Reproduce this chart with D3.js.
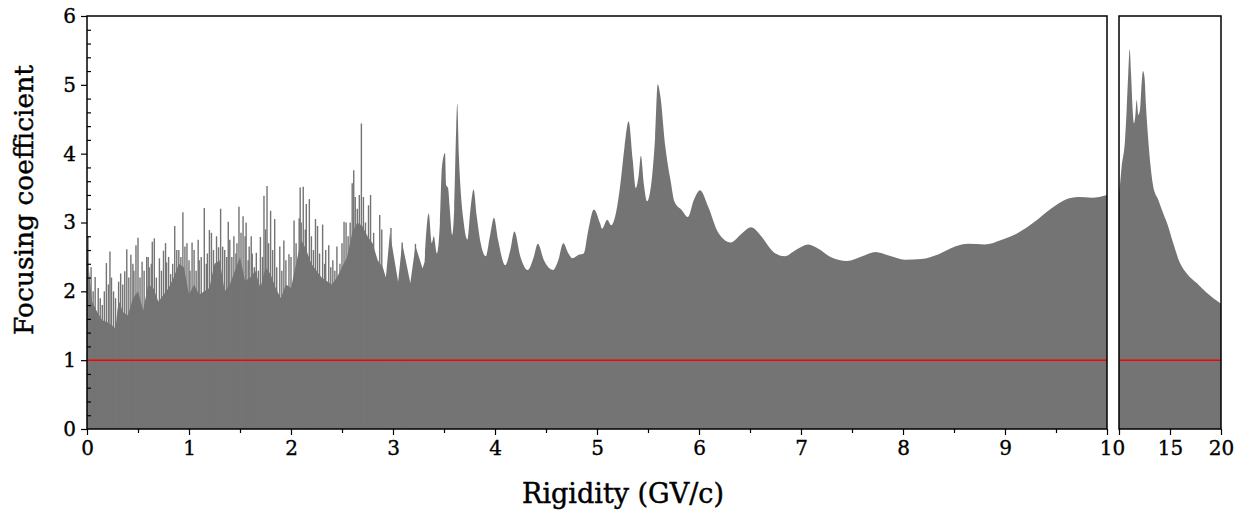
<!DOCTYPE html>
<html><head><meta charset="utf-8">
<script src="https://cdn.jsdelivr.net/npm/d3@7"></script>
<style>
body{margin:0;background:#fff;}
svg{display:block;}
</style></head>
<body>
<svg id="chart" width="1242" height="510"></svg>
<script>
// ---------- data ----------
// left panel, dense low-rigidity part (0-3.3 GV/c)
const denseRigidity = [0.00,0.02,0.05,0.10,0.15,0.20,0.25,0.28,0.30,0.32,0.35,0.40,0.45,0.50,0.55,0.60,0.65,0.70,0.75,0.80,0.85,0.90,0.95,1.00,1.05,1.10,1.15,1.20,1.25,1.30,1.35,1.40,1.45,1.50,1.55,1.60,1.65,1.70,1.75,1.80,1.85,1.90,1.95,2.00,2.05,2.10,2.15,2.20,2.25,2.30,2.35,2.40,2.45,2.50,2.55,2.60,2.65,2.70,2.75,2.80,2.85,2.90,2.93,2.97,3.05,3.09,3.17,3.22,3.29,3.31];
const denseFocus = [2.60,2.30,1.85,1.70,1.58,1.55,1.50,1.46,1.75,1.85,1.70,1.65,1.90,2.00,1.72,2.10,2.05,1.85,1.95,2.05,2.20,2.40,2.35,1.95,2.10,1.95,2.00,2.05,2.40,2.45,2.00,2.10,2.30,2.50,2.15,2.20,2.30,2.05,2.35,2.25,2.05,1.90,2.10,2.05,2.40,2.75,2.60,2.40,2.30,2.20,2.15,2.10,2.20,2.35,2.50,2.85,3.00,2.95,2.80,2.70,2.45,2.35,2.20,2.85,2.14,2.70,2.12,2.66,2.33,2.43];
// left panel, smooth resonance part (3.3-10 GV/c)
const smoothRigidity = [3.31,3.35,3.38,3.40,3.43,3.46,3.48,3.51,3.52,3.54,3.555,3.58,3.60,3.62,3.63,3.645,3.66,3.69,3.73,3.76,3.79,3.82,3.86,3.91,3.95,3.99,4.03,4.10,4.15,4.19,4.25,4.32,4.38,4.42,4.48,4.57,4.62,4.67,4.72,4.76,4.82,4.87,4.91,4.97,5.03,5.05,5.10,5.14,5.18,5.23,5.27,5.31,5.35,5.38,5.41,5.43,5.46,5.49,5.54,5.57,5.595,5.62,5.67,5.72,5.76,5.83,5.89,5.95,6.01,6.09,6.19,6.31,6.42,6.51,6.60,6.70,6.75,6.84,6.96,7.07,7.17,7.30,7.45,7.60,7.73,7.86,8.02,8.18,8.35,8.51,8.64,8.80,8.97,9.13,9.29,9.46,9.59,9.72,9.85,10.0];
const smoothFocus = [2.43,3.13,2.70,2.80,2.55,3.00,3.81,4.01,3.55,3.50,3.23,2.82,3.20,4.39,4.73,4.00,3.55,3.04,2.75,3.20,3.48,3.10,2.70,2.51,2.80,3.07,2.75,2.38,2.60,2.87,2.50,2.31,2.50,2.69,2.45,2.31,2.45,2.70,2.55,2.48,2.53,2.55,2.85,3.19,2.99,2.91,3.04,2.96,3.10,3.57,4.10,4.47,3.91,3.50,3.70,3.97,3.55,3.31,3.67,4.25,5.01,4.85,4.10,3.62,3.30,3.18,3.08,3.33,3.47,3.23,2.85,2.71,2.84,2.93,2.82,2.62,2.55,2.51,2.61,2.68,2.62,2.49,2.44,2.51,2.57,2.52,2.46,2.47,2.54,2.65,2.69,2.68,2.75,2.85,3.01,3.21,3.33,3.37,3.36,3.40];

// narrow resonance spikes in the low-rigidity region
const spikeRigidity = [0.01,0.04,0.06,0.08,0.11,0.13,0.15,0.17,0.19,0.21,0.225,0.24,0.26,0.28,0.31,0.33,0.35,0.37,0.39,0.41,0.43,0.45,0.46,0.48,0.50,0.52,0.54,0.56,0.585,0.60,0.61,0.63,0.64,0.66,0.68,0.71,0.73,0.75,0.77,0.78,0.80,0.82,0.84,0.86,0.88,0.90,0.92,0.94,0.96,0.98,1.00,1.01,1.03,1.05,1.07,1.09,1.10,1.12,1.15,1.17,1.18,1.20,1.22,1.24,1.26,1.27,1.29,1.31,1.33,1.35,1.37,1.385,1.40,1.42,1.44,1.46,1.47,1.49,1.51,1.53,1.55,1.56,1.58,1.59,1.61,1.62,1.64,1.66,1.68,1.70,1.72,1.735,1.75,1.765,1.78,1.80,1.82,1.84,1.86,1.89,1.91,1.93,1.95,1.98,2.00,2.03,2.05,2.08,2.09,2.10,2.12,2.14,2.15,2.18,2.20,2.22,2.24,2.26,2.28,2.31,2.33,2.34,2.37,2.39,2.41,2.43,2.45,2.48,2.50,2.52,2.54,2.56,2.58,2.60,2.615,2.63,2.65,2.67,2.69,2.71,2.73,2.76,2.78,2.81,2.87,2.89,2.98,3.09,3.22];
const spikeFocus = [2.80,2.35,2.00,2.21,2.05,1.90,1.80,2.00,2.41,2.10,2.58,2.20,2.00,1.90,2.14,2.26,2.10,2.29,2.61,2.20,2.53,2.40,2.30,2.67,2.78,2.20,2.43,2.30,2.50,2.50,2.35,2.40,2.72,2.77,2.20,2.48,2.30,2.59,2.70,2.42,2.50,2.25,2.40,2.95,2.60,2.60,2.50,3.15,2.65,2.70,2.45,2.30,2.71,2.60,2.30,2.75,2.45,2.50,3.21,2.40,2.55,2.89,2.85,2.60,2.35,2.80,2.64,3.20,2.65,2.60,2.50,3.01,2.75,2.50,2.80,2.55,2.70,3.23,2.85,3.09,2.80,3.00,2.45,2.65,2.80,2.55,2.35,2.56,2.30,2.79,2.50,3.39,2.90,3.53,2.70,3.17,2.60,3.05,2.35,2.65,2.30,2.74,2.45,2.54,2.50,3.03,2.70,3.06,3.51,3.00,3.52,2.90,3.27,3.34,2.80,2.60,3.05,2.95,2.55,2.97,2.40,2.60,2.67,2.35,2.45,2.30,2.65,2.40,2.70,3.01,3.00,2.80,3.00,3.57,3.76,3.37,3.20,3.40,4.44,3.37,3.00,3.25,3.40,2.85,3.11,2.90,2.92,2.71,2.69];

// right panel (10-20 GV/c)
const rightRigidity = [10.0,10.03,10.26,10.59,10.75,10.91,11.05,11.18,11.34,11.47,11.60,11.73,11.89,12.05,12.22,12.35,12.50,12.65,12.87,13.10,13.36,13.85,14.34,14.83,15.32,15.98,16.64,17.62,18.60,19.90,20.0];
const rightFocus = [3.45,3.47,3.81,4.20,4.63,5.17,5.52,5.17,4.63,4.44,4.55,4.78,4.56,4.63,5.02,5.20,5.11,4.68,4.20,3.81,3.52,3.33,3.13,2.94,2.70,2.41,2.26,2.12,1.98,1.83,1.82];

const referenceLevel = 1;
const yTicks = [0,1,2,3,4,5,6];
const xTicksLeft = [0,1,2,3,4,5,6,7,8,9,10];
const xTicksRight = [10,15,20];
const xLabel = "Rigidity (GV/c)";
const yLabel = "Focusing coefficient";

// ---------- layout ----------
const fillColor = "#747474";
const font = '"DejaVu Serif", serif';
const plotTop = 16, plotBottom = 429;
const L = {x0: 87, x1: 1107};
const R = {x0: 1119, x1: 1221};

const svg = d3.select("#chart");
const y = d3.scaleLinear().domain([0,6]).range([plotBottom, plotTop]);
const xL = d3.scaleLinear().domain([0,10]).range([L.x0, L.x1]);
const xR = d3.scaleLinear().domain([10,20]).range([R.x0, R.x1]);

const defs = svg.append("defs");
defs.append("clipPath").attr("id","clipL").append("rect")
  .attr("x",L.x0).attr("y",plotTop).attr("width",L.x1-L.x0).attr("height",plotBottom-plotTop);
defs.append("clipPath").attr("id","clipR").append("rect")
  .attr("x",R.x0).attr("y",plotTop).attr("width",R.x1-R.x0).attr("height",plotBottom-plotTop);

const zip = (a,b)=>a.map((r,i)=>({r, f:b[i]}));

// left panel: both parts in one path so no seam shows
const gL = svg.append("g").attr("clip-path","url(#clipL)");
const areaDense = d3.area().curve(d3.curveLinear).x(d=>xL(d.r)).y0(y(0)).y1(d=>y(d.f));
const areaSmooth = d3.area().curve(d3.curveMonotoneX).x(d=>xL(d.r)).y0(y(0)).y1(d=>y(d.f));
gL.append("path")
  .attr("fill",fillColor)
  .attr("d", areaDense(zip(denseRigidity,denseFocus)) + areaSmooth(zip(smoothRigidity,smoothFocus)));
gL.selectAll("line.spike").data(zip(spikeRigidity,spikeFocus)).join("line")
  .attr("class","spike")
  .attr("x1",d=>xL(d.r)).attr("x2",d=>xL(d.r))
  .attr("y1",y(0)).attr("y2",d=>y(d.f))
  .attr("stroke",fillColor).attr("stroke-width",1.4);
gL.append("line").attr("x1",L.x0).attr("x2",L.x1)
  .attr("y1",y(referenceLevel)).attr("y2",y(referenceLevel))
  .attr("stroke","#ff0000").attr("stroke-width",1.5);

// right panel
const gR = svg.append("g").attr("clip-path","url(#clipR)");
gR.append("path").datum(zip(rightRigidity,rightFocus))
  .attr("fill",fillColor)
  .attr("d", areaSmooth.x(d=>xR(d.r))(zip(rightRigidity,rightFocus)));
gR.append("line").attr("x1",R.x0).attr("x2",R.x1)
  .attr("y1",y(referenceLevel)).attr("y2",y(referenceLevel))
  .attr("stroke","#ff0000").attr("stroke-width",1.5);

// frames
[L,R].forEach(p=>{
  svg.append("rect").attr("x",p.x0).attr("y",plotTop).attr("width",p.x1-p.x0).attr("height",plotBottom-plotTop)
    .attr("fill","none").attr("stroke","#000").attr("stroke-width",1.5);
});

// axes
function styleAxis(g){
  g.select(".domain").remove();
  g.selectAll(".tick line").attr("stroke","#000").attr("stroke-width",1.2);
  g.selectAll(".tick text").attr("fill","#000").attr("stroke","#000").attr("stroke-width",0.35)
    .style("font-family",font).style("font-size","20px");
}
const gy = svg.append("g").attr("transform",`translate(${L.x0},0)`)
  .call(d3.axisLeft(y).tickValues(yTicks).tickFormat(d3.format("d")).tickSize(6).tickPadding(5));
styleAxis(gy);
const yMinor = d3.range(0,6.001,0.2).filter(v=>Math.abs(v-Math.round(v))>1e-6);
svg.append("g").attr("transform",`translate(${L.x0},0)`)
  .call(d3.axisRight(y).tickValues(yMinor).tickSize(4).tickFormat(""))
  .call(g=>{g.select(".domain").remove(); g.selectAll(".tick line").attr("stroke","#000").attr("stroke-width",1.2);});
const gxL = svg.append("g").attr("transform",`translate(0,${plotBottom})`)
  .call(d3.axisBottom(xL).tickValues(xTicksLeft).tickFormat(d3.format("d")).tickSize(6).tickPadding(6));
styleAxis(gxL);
// the shared "10" sits between the two panels
gxL.selectAll(".tick text").filter(d=>d===10).attr("dx",5);
const xMinor = d3.range(0.5,10,1);
svg.append("g").attr("transform",`translate(0,${plotBottom})`)
  .call(d3.axisBottom(xL).tickValues(xMinor).tickSize(4).tickFormat(""))
  .call(g=>{g.select(".domain").remove(); g.selectAll(".tick line").attr("stroke","#000").attr("stroke-width",1.2);});
const gxR = svg.append("g").attr("transform",`translate(0,${plotBottom})`)
  .call(d3.axisBottom(xR).tickValues(xTicksRight).tickFormat(d=>d===10?"":d3.format("d")(d)).tickSize(6).tickPadding(6));
styleAxis(gxR);

// labels
svg.append("text").attr("x",623).attr("y",503).attr("text-anchor","middle")
  .style("font-family",font).style("font-size","27px").attr("fill","#000")
  .attr("stroke","#000").attr("stroke-width",0.45).text(xLabel);
svg.append("text").attr("transform","translate(33,200) rotate(-90)").attr("text-anchor","middle")
  .style("font-family",font).style("font-size","26.5px").attr("fill","#000")
  .attr("stroke","#000").attr("stroke-width",0.45).text(yLabel);
</script>
</body></html>
